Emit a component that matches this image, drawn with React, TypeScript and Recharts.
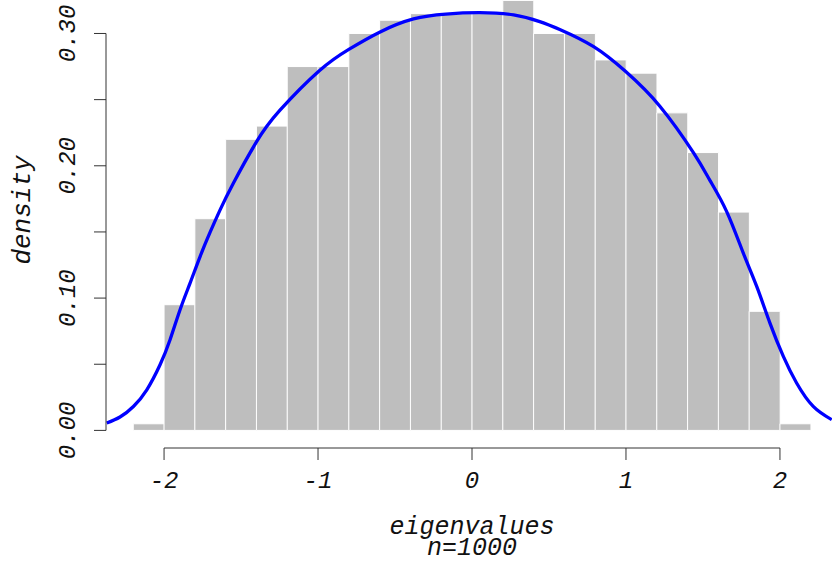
import { ComposedChart, Bar, Line, XAxis, YAxis, ReferenceLine } from "recharts";

// histogram of eigenvalues, bin width 0.2
const binMids = [
  -2.1, -1.9, -1.7, -1.5, -1.3, -1.1, -0.9, -0.7, -0.5, -0.3, -0.1,
  0.1, 0.3, 0.5, 0.7, 0.9, 1.1, 1.3, 1.5, 1.7, 1.9, 2.1,
];
const binDensity = [
  0.005, 0.095, 0.16, 0.22, 0.23, 0.275, 0.275, 0.3, 0.31, 0.315, 0.315,
  0.315, 0.325, 0.3, 0.3, 0.28, 0.27, 0.24, 0.21, 0.165, 0.09, 0.005,
];

// density estimate (blue curve)
const curveX = [
  -2.372, -2.286, -2.199, -2.112, -2.026, -1.961, -1.896, -1.831, -1.766,
  -1.7, -1.636, -1.55, -1.4, -1.247, -0.99, -0.8, -0.6, -0.38, -0.17, 0.05,
  0.27, 0.44, 0.57, 0.79, 1.0, 1.22, 1.44, 1.545, 1.654, 1.762, 1.849, 1.935,
  2.022, 2.108, 2.216, 2.336,
];
const curveY = [
  0.0056, 0.0101, 0.0181, 0.0307, 0.0496, 0.0685, 0.0912, 0.1113, 0.1314,
  0.15, 0.1667, 0.1868, 0.218, 0.242, 0.272, 0.288, 0.301, 0.311, 0.3147,
  0.3157, 0.314, 0.309, 0.303, 0.29, 0.271, 0.245, 0.2095, 0.189, 0.1654,
  0.134, 0.1088, 0.0811, 0.0559, 0.0358, 0.0181, 0.0081,
];

const xTicks = [-2, -1, 0, 1, 2];
const yTicks = [0, 0.05, 0.1, 0.15, 0.2, 0.25, 0.3];
const xLabel = ["eigenvalues", "n=1000"];
const yLabel = "density";

const bars = binMids.map((x, i) => ({ x, density: binDensity[i] }));
const curve = curveX.map((x, i) => ({ x, d: curveY[i] }));

const xDomain: [number, number] = [-2.377, 2.338];
const yDomain: [number, number] = [-0.0133, 0.3253];

const font = "'Liberation Mono', 'DejaVu Sans Mono', monospace";

const XTick = (props: any) => {
  const { x, y, payload } = props;
  return (
    <text
      x={x}
      y={y + 19}
      textAnchor="middle"
      dominantBaseline="central"
      fontFamily={font}
      fontStyle="italic"
      fontSize={24}
      fill="#111"
    >
      {payload.value}
    </text>
  );
};

const YTick = (props: any) => {
  const { x, y, payload } = props;
  const v = payload.value as number;
  // R drops the in-between labels
  if (Math.abs(Math.round(v * 10) - v * 10) > 1e-6) return <g />;
  const cx = x - 23;
  return (
    <text
      x={cx}
      y={y}
      transform={`rotate(-90, ${cx}, ${y})`}
      textAnchor="middle"
      dominantBaseline="central"
      fontFamily={font}
      fontStyle="italic"
      fontSize={24}
      fill="#111"
    >
      {v.toFixed(2)}
    </text>
  );
};

const XAxisLabel = (props: any) => {
  const vb = props.viewBox;
  return (
    <g fontFamily={font} fontStyle="italic" fontSize={25} fill="#111">
      <text x={vb.x + 366} y={vb.y + 79} textAnchor="middle" dominantBaseline="central">
        {xLabel[0]}
      </text>
      <text x={vb.x + 366} y={vb.y + 100.5} textAnchor="middle" dominantBaseline="central">
        {xLabel[1]}
      </text>
    </g>
  );
};

const YAxisLabel = (props: any) => {
  const vb = props.viewBox;
  const cx = vb.x + 23;
  const cy = vb.y + 210;
  return (
    <text
      x={cx}
      y={cy}
      transform={`rotate(-90, ${cx}, ${cy})`}
      textAnchor="middle"
      dominantBaseline="central"
      fontFamily={font}
      fontStyle="italic"
      fontSize={26}
      fill="#111"
    >
      {yLabel}
    </text>
  );
};

export default function App() {
  return (
    <div style={{ position: "absolute", left: 0, top: 0, background: "#fff" }}>
      <ComposedChart
        width={832}
        height={563}
        data={bars}
        margin={{ top: 0, right: 0, bottom: 0, left: 0 }}
        barCategoryGap={0}
        barGap={0}
      >
        <XAxis
          type="number"
          dataKey="x"
          domain={xDomain}
          ticks={xTicks}
          allowDataOverflow
          height={115}
          axisLine={false}
          tickLine={{ stroke: "#333" }}
          tickSize={12}
          tick={<XTick />}
          label={{ content: <XAxisLabel /> }}
        />
        <XAxis
          xAxisId="curve"
          type="number"
          dataKey="x"
          domain={xDomain}
          allowDataOverflow
          hide
        />
        <YAxis
          type="number"
          domain={yDomain}
          ticks={yTicks}
          allowDataOverflow
          width={106}
          axisLine={false}
          tickLine={{ stroke: "#333" }}
          tickSize={12}
          tick={<YTick />}
          label={{ content: <YAxisLabel /> }}
        />
        <Bar
          dataKey="density"
          fill="#BEBEBE"
          stroke="#FFFFFF"
          strokeWidth={1}
          isAnimationActive={false}
        />
        <Line
          xAxisId="curve"
          data={curve}
          dataKey="d"
          type="natural"
          stroke="#0000FF"
          strokeWidth={3.3}
          dot={false}
          isAnimationActive={false}
        />
        <ReferenceLine
          segment={[
            { x: xDomain[0], y: yTicks[0] },
            { x: xDomain[0], y: yTicks[yTicks.length - 1] },
          ]}
          stroke="#333"
          strokeWidth={1}
          ifOverflow="visible"
        />
        <ReferenceLine
          segment={[
            { x: xTicks[0], y: yDomain[0] },
            { x: xTicks[xTicks.length - 1], y: yDomain[0] },
          ]}
          stroke="#333"
          strokeWidth={1}
          ifOverflow="visible"
        />
      </ComposedChart>
    </div>
  );
}
